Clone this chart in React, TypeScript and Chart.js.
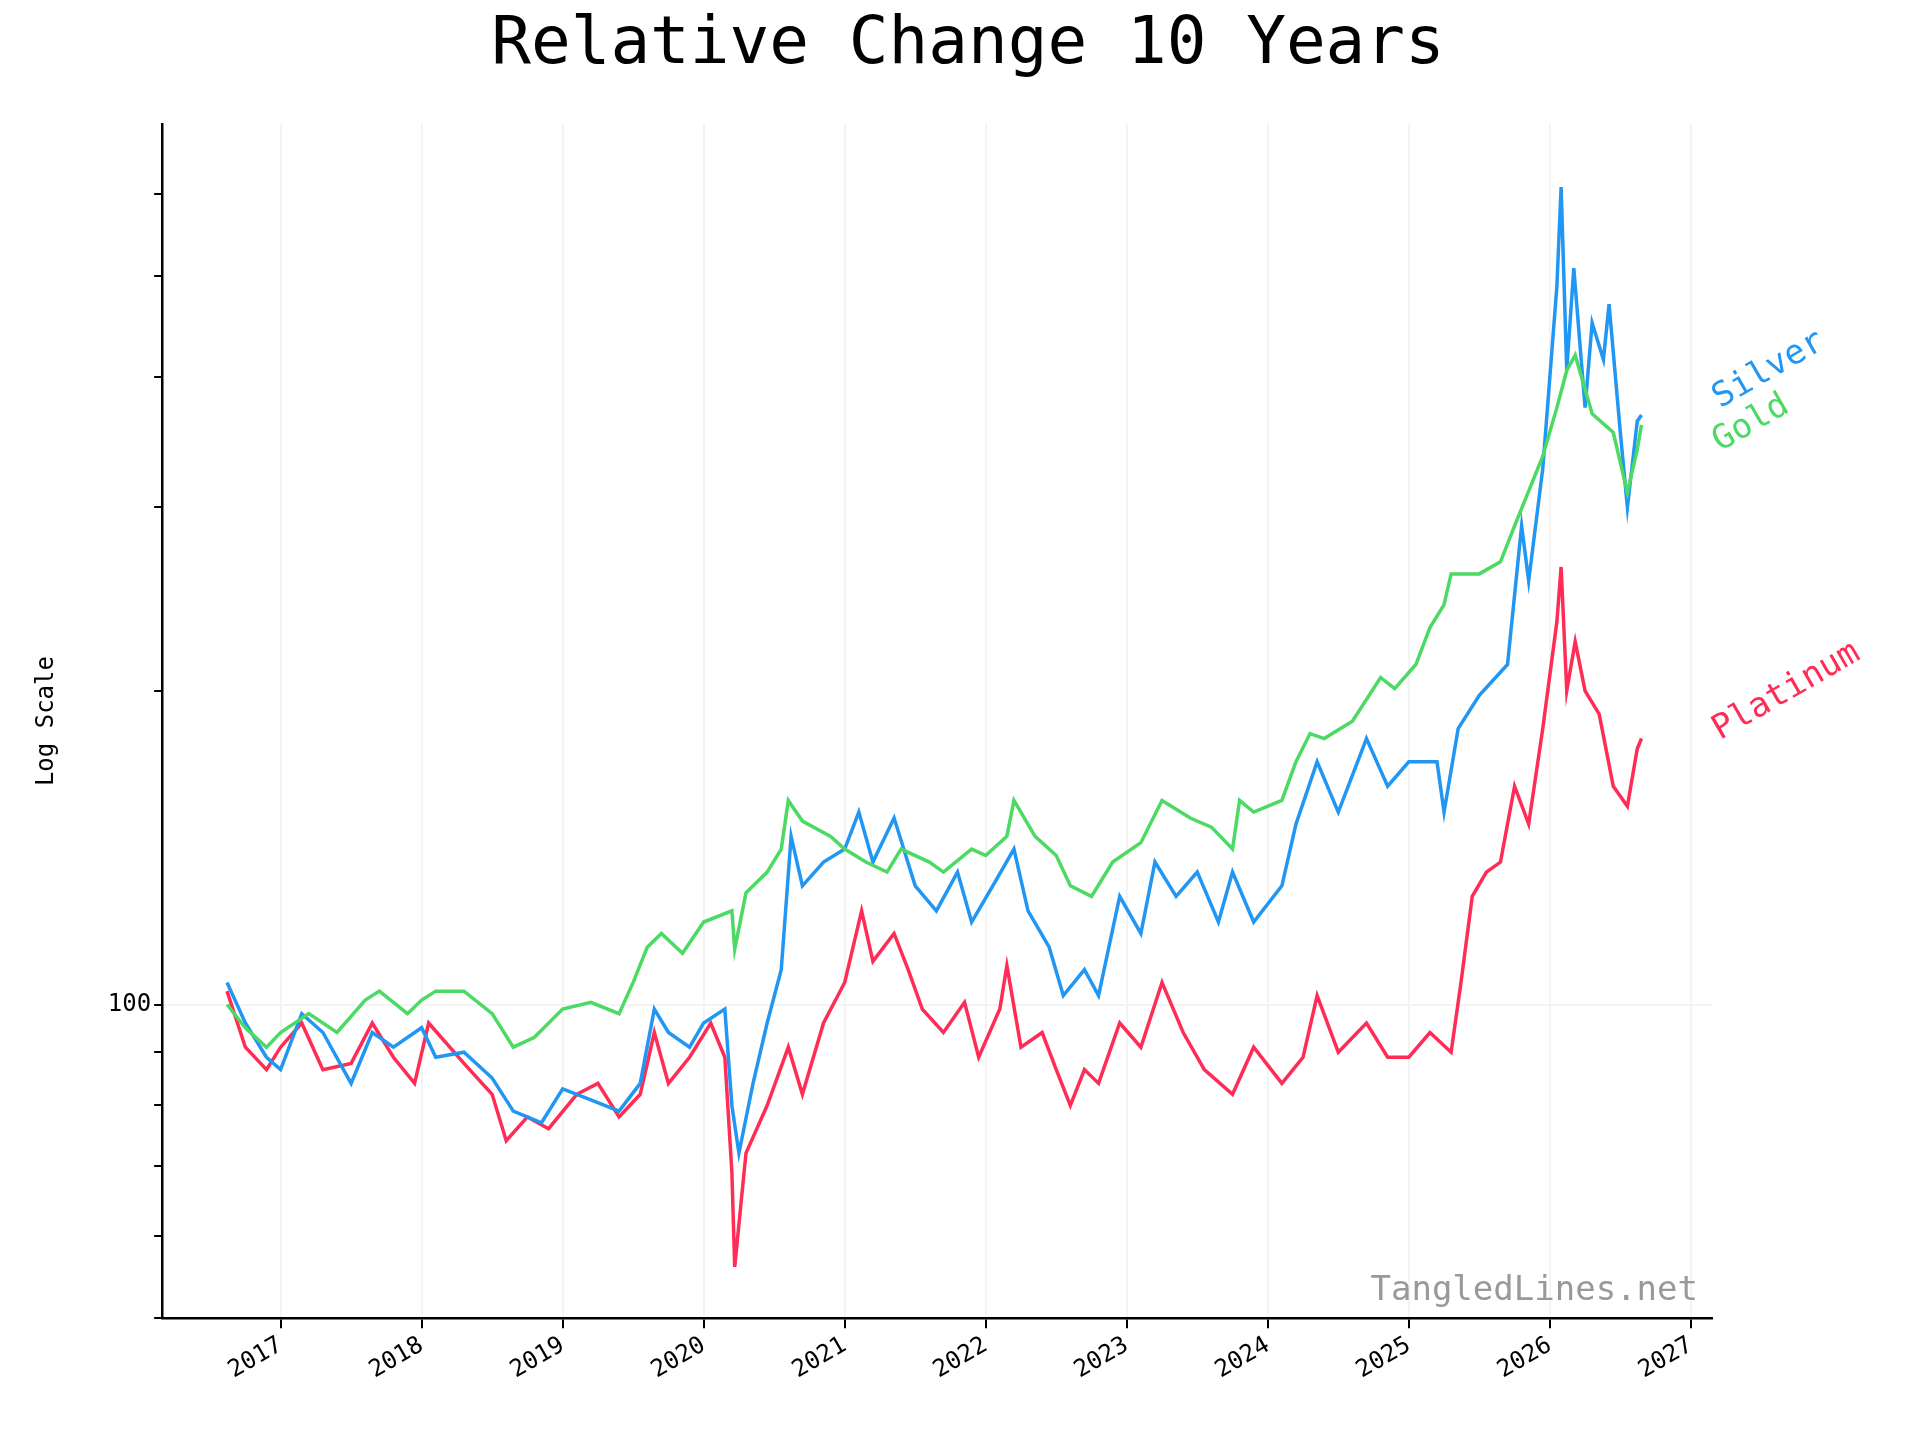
import React, { useEffect, useRef } from "react";
import { Chart, registerables } from "chart.js";
Chart.register(...registerables);

const goldX = [2016.62,2016.75,2016.9,2017.0,2017.2,2017.4,2017.6,2017.7,2017.9,2018.0,2018.1,2018.3,2018.5,2018.65,2018.8,2019.0,2019.2,2019.4,2019.5,2019.6,2019.7,2019.85,2020.0,2020.2,2020.22,2020.3,2020.45,2020.55,2020.6,2020.7,2020.9,2021.0,2021.15,2021.3,2021.4,2021.6,2021.7,2021.9,2022.0,2022.15,2022.2,2022.35,2022.5,2022.6,2022.75,2022.9,2023.1,2023.25,2023.45,2023.6,2023.75,2023.8,2023.9,2024.1,2024.2,2024.3,2024.4,2024.6,2024.8,2024.9,2025.05,2025.15,2025.25,2025.3,2025.5,2025.65,2025.75,2025.85,2025.95,2026.05,2026.12,2026.18,2026.3,2026.45,2026.55,2026.62,2026.65];
const goldY = [100,95,91,94,98,94,101,103,98,101,103,103,98,91,93,99,100.5,98,105,113.5,117,112,120,123,113,128,134,141,157,150,145,141,137,134,141,137,134,141,139,145,157,145,139,130,127,137,143,157,151,148,141,157,153,157,171,182,180,187,206,201,212,230,242,259,259,266,288,311,336,374,406,420,369,354,310,341,360];

const silverX = [2016.62,2016.75,2016.9,2017.0,2017.15,2017.3,2017.5,2017.65,2017.8,2018.0,2018.1,2018.3,2018.5,2018.65,2018.85,2019.0,2019.2,2019.4,2019.55,2019.65,2019.75,2019.9,2020.0,2020.15,2020.2,2020.25,2020.35,2020.45,2020.55,2020.62,2020.7,2020.85,2021.0,2021.1,2021.2,2021.35,2021.5,2021.65,2021.8,2021.9,2022.05,2022.2,2022.3,2022.45,2022.55,2022.7,2022.8,2022.95,2023.1,2023.2,2023.35,2023.5,2023.65,2023.75,2023.9,2024.1,2024.2,2024.35,2024.5,2024.7,2024.85,2025.0,2025.2,2025.25,2025.35,2025.5,2025.7,2025.8,2025.85,2025.95,2026.05,2026.08,2026.12,2026.17,2026.25,2026.3,2026.38,2026.42,2026.5,2026.55,2026.62,2026.65];
const silverY = [105,96,89,86.6,98,94,84,94,91,95,89,90,85,79,77,83,81,79,84,99,94,91,96,99,80,72,84,96,108,145,130,137,141,153,137,151,130,123,134,120,130,141,123,113.5,102,108,102,127,117,137,127,134,120,134,120,130,149,171,153,180,162,171,171,153,184,198,212,288,255,327,489,609,406,509,374,451,416,470,354,300,363,368];

const platX = [2016.62,2016.75,2016.9,2017.0,2017.15,2017.3,2017.5,2017.65,2017.8,2017.95,2018.05,2018.3,2018.5,2018.6,2018.75,2018.9,2019.1,2019.25,2019.4,2019.55,2019.65,2019.75,2019.9,2020.05,2020.15,2020.2,2020.22,2020.3,2020.45,2020.6,2020.7,2020.85,2021.0,2021.12,2021.2,2021.35,2021.45,2021.55,2021.7,2021.85,2021.95,2022.1,2022.15,2022.25,2022.4,2022.5,2022.6,2022.7,2022.8,2022.95,2023.1,2023.25,2023.4,2023.55,2023.75,2023.9,2024.1,2024.25,2024.35,2024.5,2024.7,2024.85,2025.0,2025.15,2025.3,2025.37,2025.45,2025.55,2025.65,2025.75,2025.85,2025.95,2026.05,2026.08,2026.12,2026.18,2026.25,2026.35,2026.45,2026.55,2026.62,2026.65];
const platY = [103,91,86.6,91,96,86.6,87.8,96,89,84,96,87.8,82,74,78,76,82,84,78,82,94,84,89,96,89,69,56,72,80,91,82,96,105,123,110,117,108,99,94,100.5,89,99,109,91,94,86.6,80,86.6,84,96,91,105,94,86.6,82,91,84,89,102,90,96,89,89,94,90,105,127,134,137,162,149,184,233,263,200,223,200,190,162,155,176,180];

const yearTicks = [2017,2018,2019,2020,2021,2022,2023,2024,2025,2026,2027];
const logTicks = [50,60,70,80,90,100,200,300,400,500,600];
const endLabels = [
  { text: "Silver", value: 385, color: "#2196F3" },
  { text: "Gold", value: 350, color: "#4CD964" },
  { text: "Platinum", value: 185, color: "#FF2D55" },
];
const TITLE = "Relative Change 10 Years";
const MONO = "'DejaVu Sans Mono', monospace";

const zip = (xs: number[], ys: number[]) => xs.map((x, i) => ({ x, y: ys[i] }));

const labelPlugin = {
  id: "endLabels",
  afterDraw(chart: any) {
    const ctx = chart.ctx;
    const { chartArea, scales } = chart;
    ctx.save();
    ctx.font = `66px ${MONO}`;
    ctx.fillStyle = "#000";
    ctx.textAlign = "center";
    ctx.textBaseline = "middle";
    ctx.fillText(TITLE, 968, 46);
    ctx.font = `34px ${MONO}`;
    ctx.textAlign = "left";
    for (const l of endLabels) {
      const y = scales.y.getPixelForValue(l.value);
      ctx.save();
      ctx.translate(chartArea.right + 8, y + 14);
      ctx.rotate(-Math.PI / 6);
      ctx.fillStyle = l.color;
      ctx.textBaseline = "alphabetic";
      ctx.fillText(l.text, 0, 0);
      ctx.restore();
    }
    ctx.fillStyle = "#999999";
    ctx.textAlign = "right";
    ctx.textBaseline = "bottom";
    ctx.fillText("TangledLines.net", chartArea.right - 14, chartArea.bottom - 10);
    ctx.restore();
  },
};

export default function App() {
  const ref = useRef<HTMLCanvasElement>(null);
  useEffect(() => {
    document.body.style.margin = "0";
    const ds = (label: string, xs: number[], ys: number[], color: string) => ({
      label, data: zip(xs, ys), borderColor: color, backgroundColor: color,
      borderWidth: 3.5, pointRadius: 0, tension: 0,
    });
    const chart = new Chart(ref.current!, {
      type: "line",
      data: {
        datasets: [
          ds("Gold", goldX, goldY, "#4CD964"),
          ds("Silver", silverX, silverY, "#2196F3"),
          ds("Platinum", platX, platY, "#FF2D55"),
        ],
      },
      options: {
        animation: false,
        responsive: false,
        layout: { padding: { left: 28, right: 208, top: 124, bottom: 52 } },
        plugins: {
          legend: { display: false },
          tooltip: { enabled: false },
          title: { display: false },
        },
        scales: {
          x: {
            type: "linear", min: 2016.16, max: 2027.15,
            afterBuildTicks: (s: any) => { s.ticks = yearTicks.map((v) => ({ value: v })); },
            ticks: { color: "#000", font: { family: MONO, size: 24 }, minRotation: 30, maxRotation: 30,
              callback: (v: any) => String(v) },
            grid: { color: "#f4f4f4", lineWidth: 2, tickColor: "#000", tickLength: 10 },
            border: { color: "#000", width: 2.5 },
          },
          y: {
            type: "logarithmic", min: 50, max: 700,
            afterBuildTicks: (s: any) => { s.ticks = logTicks.map((v) => ({ value: v })); },
            ticks: { color: "#000", font: { family: MONO, size: 24 },
              callback: (v: any) => (v === 100 ? "100" : "") },
            grid: { color: (c: any) => (c.tick && c.tick.value === 100 ? "#f4f4f4" : "rgba(0,0,0,0)"),
              lineWidth: 2, tickColor: "#000", tickLength: 8 },
            border: { color: "#000", width: 2.5 },
            title: { display: true, text: "Log Scale", color: "#000", font: { family: MONO, size: 24 }, padding: { bottom: 44 } },
          },
        },
      } as any,
      plugins: [labelPlugin],
    });
    return () => chart.destroy();
  }, []);
  return <canvas ref={ref} width={1920} height={1440} style={{ display: "block", width: 1920, height: 1440 }} />;
}
